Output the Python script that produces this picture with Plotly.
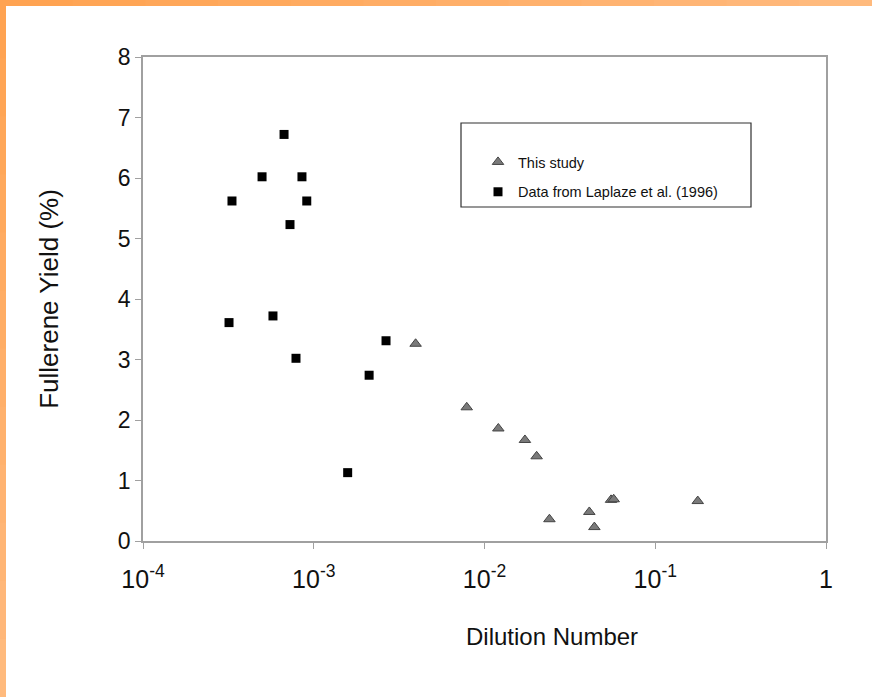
import plotly.graph_objects as go

# ---- data ----
study_x = [3.95e-3, 7.87e-3, 1.205e-2, 1.725e-2, 2.02e-2, 2.40e-2, 4.11e-2, 4.40e-2, 5.51e-2, 5.71e-2, 0.1774]
study_y = [3.26, 2.21, 1.86, 1.67, 1.40, 0.36, 0.48, 0.23, 0.68, 0.69, 0.66]

lap_x = [3.32e-4, 4.98e-4, 6.7e-4, 7.26e-4, 8.53e-4, 9.1e-4, 3.19e-4, 5.77e-4, 7.87e-4, 1.58e-3, 2.11e-3, 2.65e-3]
lap_y = [5.62, 6.02, 6.72, 5.23, 6.02, 5.62, 3.61, 3.72, 3.02, 1.13, 2.74, 3.31]

x_tickvals = [1e-4, 1e-3, 1e-2, 1e-1, 1]
x_ticktext = ["10<sup>-4</sup>", "10<sup>-3</sup>", "10<sup>-2</sup>", "10<sup>-1</sup>", "1"]

x_title = "Dilution Number"
y_title = "Fullerene Yield (%)"
names = ["This study", "Data from Laplaze et al. (1996)"]

W, H = 872, 697
ML, MR, MT, MB = 143, 46, 57, 156
PW, PH = W - ML - MR, H - MT - MB

def px(x):
    return (x - ML) / PW

def py(y):
    return (H - MB - y) / PH

FONT = "Liberation Sans, Arial, sans-serif"
AXC = "#a0a0a0"

fig = go.Figure()
fig.add_trace(go.Scatter(
    x=study_x, y=study_y, mode="markers", name=names[0], legendgroup="a",
    marker=dict(symbol="triangle-up", size=10, color="#7a7a7a",
                line=dict(color="#444444", width=1)),
))
fig.add_trace(go.Scatter(
    x=lap_x, y=lap_y, mode="markers", name=names[1], legendgroup="b",
    marker=dict(symbol="square", size=9, color="#000000",
                line=dict(color="#000000", width=0)),
))

shapes = []
# legend frame
shapes.append(dict(type="rect", xref="paper", yref="paper",
                   x0=px(461), x1=px(751), y0=py(207), y1=py(123),
                   line=dict(color="#303030", width=1.2), fillcolor="rgba(0,0,0,0)", layer="above"))
# orange borders (gradient approximated by segments)
n = 12
c0 = (255, 163, 82)
c1 = (255, 186, 125)
for i in range(n):
    t = i / (n - 1)
    col = "rgb(%d,%d,%d)" % tuple(int(c0[k] + (c1[k] - c0[k]) * t) for k in range(3))
    shapes.append(dict(type="rect", xref="paper", yref="paper",
                       x0=px(W * i / n), x1=px(W * (i + 1) / n + 1),
                       y0=py(6), y1=py(0), line=dict(width=0), fillcolor=col, layer="above"))
    shapes.append(dict(type="rect", xref="paper", yref="paper",
                       x0=px(0), x1=px(6),
                       y0=py(H * (i + 1) / n + 1), y1=py(H * i / n), line=dict(width=0), fillcolor=col, layer="above"))

fig.update_layout(
    width=W, height=H,
    margin=dict(l=ML, r=MR, t=MT, b=MB),
    paper_bgcolor="white", plot_bgcolor="white",
    font=dict(family=FONT, color="#111111"),
    showlegend=True,
    legend=dict(x=px(478), y=py(146), xanchor="left", yanchor="top",
                bgcolor="rgba(0,0,0,0)", borderwidth=0,
                font=dict(size=14.5, family=FONT, color="#111111"),
                traceorder="grouped", tracegroupgap=8, itemwidth=30),
    xaxis=dict(type="log", range=[-4, 0], tickvals=x_tickvals, ticktext=x_ticktext,
               showgrid=False, zeroline=False, showline=True, linecolor=AXC, linewidth=1.5,
               mirror=True, ticks="outside", ticklen=6, tickcolor=AXC,
               tickfont=dict(size=25, family=FONT, color="#111111"), ticklabelstandoff=9),
    yaxis=dict(range=[0, 8], dtick=1, showgrid=False, zeroline=False,
               showline=True, linecolor=AXC, linewidth=1.5, mirror=True,
               ticks="outside", ticklen=6, tickcolor=AXC,
               tickfont=dict(size=23, family=FONT, color="#111111"),
               title=dict(text=y_title, font=dict(size=26, family=FONT, color="#111111"), standoff=52)),
    shapes=shapes,
    annotations=[dict(text=x_title, xref="paper", yref="paper", x=px(552), y=py(636),
                      xanchor="center", yanchor="middle", showarrow=False,
                      font=dict(size=24, family=FONT, color="#111111"))],
)

fig.write_html("out.html")
